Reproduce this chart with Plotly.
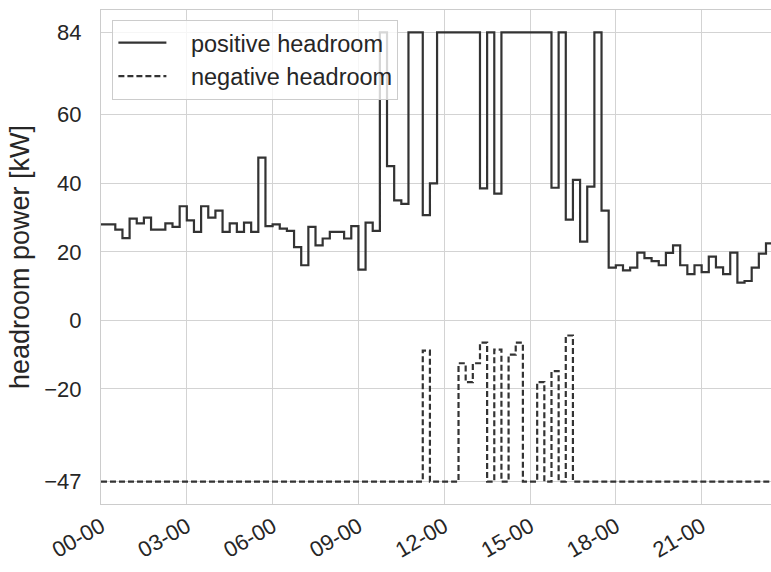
import pandas as pd
import plotly.graph_objects as go

# 15-minute intervals over one day
times = pd.date_range("2021-01-01 00:00", periods=96, freq="15min")

positive_headroom = [
    28, 28, 26.5, 24, 29.7, 28.3, 30, 26.5, 26.5, 28.3, 27.3, 33.3,
    29.2, 25.8, 33.3, 30, 32, 25.8, 28.3, 25.8, 28.5, 25.8, 47.5, 27.5,
    28, 26.8, 26.1, 21.4, 16.1, 27.3, 21.9, 23.9, 25.8, 25.8, 23.9, 27.5,
    14.8, 28.5, 26.1, 84, 45, 35, 34, 84, 84, 30.7, 40, 84,
    84, 84, 84, 84, 84, 38.5, 84, 37, 84, 84, 84, 84,
    84, 84, 84, 38.7, 84, 29.4, 41, 23, 39, 84, 32, 15.4,
    16.1, 14.6, 15.4, 19.8, 18.2, 17.3, 16.1, 19.7, 21.9, 16.1, 13.5, 16.1,
    14.1, 18.6, 15.5, 13.5, 19.8, 11, 11.5, 15.4, 19.5, 22.5, 22.5, 22,
]

negative_headroom = [-47] * 96
for idx, val in {45: -8.8, 50: -12.5, 51: -18, 52: -12.5, 53: -6.5, 55: -8.5,
                 57: -10, 58: -6.5, 61: -18, 63: -14.8, 65: -4.4}.items():
    negative_headroom[idx] = val

series_names = ["positive headroom", "negative headroom"]
y_tick_vals = [84, 60, 40, 20, 0, -20, -47]
y_tick_text = ["84", "60", "40", "20", "0", "\u221220", "\u221247"]
x_tick_vals = pd.date_range("2021-01-01 00:00", periods=8, freq="3h")

line_color = "#333333"
font_family = "Liberation Sans, Arial, sans-serif"
text_color = "#262626"
grid_color = "#d3d3d3"
pad = "\u00a0\u00a0\u00a0"

fig = go.Figure()
fig.add_trace(go.Scatter(
    x=times, y=positive_headroom, mode="lines", line_shape="hv",
    name=pad + series_names[0], line=dict(color=line_color, width=2.2),
))
fig.add_trace(go.Scatter(
    x=times, y=negative_headroom, mode="lines", line_shape="hv",
    name=pad + series_names[1], line=dict(color=line_color, width=2.2, dash="6px,3px"),
))

fig.update_layout(
    width=771, height=572,
    margin=dict(l=101, r=0, t=10, b=68),
    paper_bgcolor="white", plot_bgcolor="white",
    font=dict(family=font_family, color=text_color, size=22),
    showlegend=True,
    legend=dict(
        x=0.017, y=0.98, xanchor="left", yanchor="top",
        bgcolor="rgba(255,255,255,0.8)", bordercolor="#cccccc", borderwidth=1,
        font=dict(size=23.5, family=font_family, color=text_color),
        itemwidth=48, tracegroupgap=0,
    ),
    xaxis=dict(
        type="date",
        range=["2021-01-01 00:00:00", "2021-01-01 23:25:30"],
        tickvals=list(x_tick_vals), tickformat="%H-%M", tickangle=-30,
        showgrid=True, gridcolor=grid_color, gridwidth=1,
        showline=True, linecolor="#cccccc", linewidth=1.2, mirror=True,
        ticks="", tickfont=dict(size=22), zeroline=False,
    ),
    yaxis=dict(
        range=[-53.55, 90.55],
        tickvals=y_tick_vals, ticktext=y_tick_text,
        showgrid=True, gridcolor=grid_color, gridwidth=1,
        showline=True, linecolor="#cccccc", linewidth=1.2, mirror=False,
        ticks="", ticklabelstandoff=14, tickfont=dict(size=22), zeroline=False,
        title=dict(text="headroom power [kW]", font=dict(size=27), standoff=6),
    ),
)

fig.write_html("out.html")
